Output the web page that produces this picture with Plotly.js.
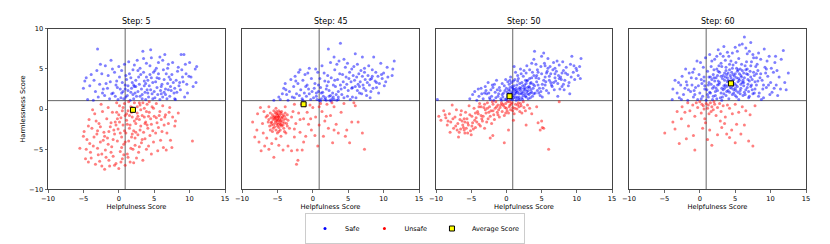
<!DOCTYPE html>
<html><head><meta charset="utf-8">
<script src="https://cdn.plot.ly/plotly-3.0.1.min.js"></script>
<style>html,body{margin:0;padding:0;background:#fff}#chart{width:830px;height:244px}</style>
</head><body><div id="chart"></div>
<script>
const stepLabels = ["Step: 5","Step: 45","Step: 50","Step: 60"];
const avgX = [2.0,-1.3,0.45,4.4];
const avgY = [-0.1,0.6,1.6,3.2];
const refX = 0.9, refY = 1.05;

const step5Safe = [[-4.6,3.9],[-4.8,3.5],[-5.0,2.6],[-4.4,1.2],[-3.6,1.1],[-3.0,7.5],[-2.6,5.6],[-2.2,2.5],[-1.8,3.2],[-1.5,4.2],[-1.1,6.1],[-0.8,2.0],[-0.5,1.6],[-0.3,3.5],[-0.9,5.0],[-2.7,3.1],[-3.3,2.2],[-2.0,1.7],[-1.3,1.3],[-0.1,1.2],[-2.4,4.4],[-3.9,4.3],[-1.6,2.6],[-0.6,4.6],[-0.2,2.7],[-1.0,1.9],[-2.9,1.5],[-1.9,5.4],[0.0,5.3],[-0.4,3.0],[-4.1,2.9],[-3.5,3.6],
[0.3,1.4],[0.6,2.2],[0.9,3.0],[1.2,1.7],[1.5,4.4],[1.8,2.6],[2.1,1.3],[2.4,3.6],[2.7,2.2],[3.0,5.1],[3.3,1.8],[3.6,2.9],[3.9,4.0],[4.2,1.5],[4.5,2.4],[4.8,3.3],[0.4,4.8],[0.8,5.6],[1.1,3.7],[1.6,1.1],[2.0,4.9],[2.3,2.0],[2.6,6.1],[2.9,3.1],[3.2,2.5],[3.5,6.3],[3.8,1.2],[4.1,3.6],[4.4,5.4],[4.7,1.9],[0.2,2.5],[1.3,2.9],[1.9,3.3],[2.5,1.6],[3.1,4.3],[3.7,2.1],[4.3,2.9],[4.9,4.6],[0.7,1.3],[1.4,5.9],[3.4,7.2],[4.5,7.4],[2.2,5.5],[3.9,5.7],[4.6,6.4],[1.0,4.2],[2.8,4.0],[3.6,3.5],[4.0,2.4],[2.2,2.8],[0.5,3.3],[1.7,2.1],[3.3,1.3],[4.6,3.9],[2.0,1.8],
[5.1,1.4],[5.4,2.7],[5.7,3.8],[6.0,1.9],[6.3,4.9],[6.6,2.5],[6.9,3.2],[7.2,1.6],[7.5,4.3],[7.8,2.0],[8.1,3.6],[8.4,5.2],[8.7,2.4],[9.0,4.0],[9.3,1.5],[9.6,3.1],[9.9,4.1],[10.2,4.0],[10.5,2.8],[10.8,5.0],[11.0,5.3],[10.9,3.3],[8.8,6.8],[9.2,6.8],[6.5,6.8],[5.8,6.5],[6.2,6.1],[7.0,5.6],[5.3,5.1],[5.6,4.4],[6.1,3.1],[6.8,1.3],[7.3,2.8],[7.6,5.8],[8.0,1.2],[8.3,4.7],[5.2,3.4],[5.9,2.3],[6.4,3.7],[7.1,4.0],[7.7,3.3],[8.5,2.9],[9.4,5.6],[5.5,1.8],[6.7,4.4],[7.9,1.3],[5.0,2.2],[6.2,1.5],[7.4,2.3],[8.2,2.1],[9.7,2.0],[10.0,5.8],[5.6,5.8],[6.9,5.1],[9.1,3.4],
[0.4,2.0],[1.0,1.5],[1.7,3.9],[2.4,2.8],[3.0,1.6],[3.5,4.6],[4.1,2.0],[4.8,1.3],[5.4,3.9],[6.0,2.8],[6.6,1.8],[7.3,3.7],[7.9,2.6],[8.6,3.3],[2.7,4.8],[1.3,2.3],[5.1,4.8],[6.4,2.1],[3.8,3.2],[0.9,2.5],[2.1,3.0],[4.4,4.3],[5.8,1.2],[7.0,2.4],[8.9,4.9],[9.5,4.4],[-1.2,3.4],[-2.3,2.0],[-3.1,4.8],[0.1,4.0]];

const step5Unsafe = [[-5.5,-4.9],[-4.9,-2.8],[-4.7,-6.2],[-4.5,-3.8],[-4.3,-6.6],[-4.2,-1.3],[-4.0,-5.4],[-3.8,-2.4],[-3.6,-4.6],[-3.4,-0.6],[-3.3,-6.9],[-3.1,-3.1],[-2.9,-5.7],[-2.8,-1.8],[-2.6,-4.1],[-2.4,-7.1],[-2.3,-0.3],[-2.1,-2.9],[-2.0,-7.5],[-1.9,-5.1],[-1.7,-1.2],[-1.6,-3.6],[-1.4,-6.4],[-1.3,-7.1],[-1.2,-2.2],[-1.0,-4.7],[-0.9,-0.4],[-0.8,-5.9],[-0.6,-3.1],[-0.5,-1.6],[-0.4,-6.8],[-0.2,-4.0],[-0.1,-2.5],[0.0,-7.4],[0.1,0.4],[0.2,-5.3],[0.3,-1.1],[0.4,-3.5],[0.5,-6.2],[0.6,-2.0],[0.7,-4.4],[0.8,0.7],[0.9,-7.0],[1.0,-3.0],[1.1,-1.4],[1.2,-5.6],[1.3,-0.2],[1.4,-4.0],[1.5,-2.4],[1.6,-6.6],[1.7,0.3],[1.8,-3.5],[1.9,-1.0],[2.0,-5.0],[2.1,-2.7],[2.2,0.8],[2.3,-4.5],[2.4,-1.8],[2.5,-6.1],[2.6,-0.5],[2.7,-3.2],[2.8,-5.4],[2.9,-1.3],[3.0,0.5],[3.1,-2.1],[3.2,-4.2],[3.3,-0.8],[3.4,-6.4],[3.5,-2.9],[3.6,0.1],[3.7,-3.7],[3.8,-1.6],[3.9,-5.0],[4.0,0.6],[4.1,-2.4],[4.2,-4.6],[4.3,-0.4],[4.4,-3.3],[4.5,-1.2],[4.6,-5.6],[4.7,0.3],[4.8,-2.7],[4.9,-4.1],[5.0,-0.9],[5.2,-3.0],[5.3,0.7],[5.4,-1.7],[5.5,-5.2],[5.6,-2.3],[5.8,-0.3],[5.9,-3.9],[6.0,-1.3],[6.2,0.4],[6.3,-4.8],[6.4,-2.0],[6.6,-0.7],[6.7,-5.1],[6.8,-3.0],[7.0,-1.8],[7.2,0.2],[7.3,-3.9],[7.5,-4.8],[7.6,-1.0],[7.9,-2.1],[8.0,-1.5],[8.4,-0.5],[10.4,-4.0],[-3.7,-0.1],[-2.5,0.6],[-1.5,0.2],[-0.3,0.8],[0.5,-0.2],[1.9,0.2],[0.9,-0.8],[1.4,0.9],[2.6,0.3],[3.4,0.8],[4.3,0.9],[-0.7,-2.6],[0.2,-3.0],[1.6,-2.0],[2.3,-3.6],[3.0,-2.6],[-2.2,-3.9],[-1.1,-5.4],[0.4,-4.8],[1.3,-6.0],[-3.0,-4.9],[-4.1,-4.3],[-2.7,-6.5],[-0.6,-7.0],[0.3,-6.6],[2.1,-6.7],[-1.8,-6.0],[-3.9,-6.1],[1.7,-4.9],[2.9,-4.7],[-0.2,-1.2],[1.1,-0.6],[2.5,-1.2],[3.9,-0.3],[-1.4,-2.8],[-2.6,-2.2],[0.8,-2.7],[4.6,-1.9],[5.7,-0.8],[6.1,-2.8],[7.1,-0.4],[-4.6,-5.0],[-5.0,-3.4],[-3.2,-1.5],[0.0,-0.7],[3.6,-1.0],[2.0,-0.1],
[-0.3,-0.4],[0.6,0.2],[1.2,-1.9],[1.8,-0.4],[2.4,-2.9],[3.1,-0.1],[3.7,-1.8],[4.2,-0.9],[4.9,0.1],[5.3,-1.1],[-1.1,-1.7],[-2.0,-3.4],[-3.5,-3.5],[-0.8,-3.8],[0.7,-5.7],[1.9,-3.1],[2.7,-0.9],[3.3,-3.8],[-1.5,-4.4],[-2.4,-5.6],[0.1,-1.6],[1.5,-0.8],[2.2,-1.5],[4.0,-2.0],[-0.4,-2.0],[0.9,-4.1],[-3.0,-2.7],[-4.3,-2.1],[6.5,-1.0],[2.9,0.8]];

const step45Safe = [[-5.5,1.1],[-4.8,1.5],[-4.6,1.2],[-4.1,2.6],[-3.9,3.2],[-3.7,1.8],[-3.5,1.1],[-3.3,2.2],[-3.1,3.7],[-2.9,1.5],[-2.7,2.8],[-2.5,4.1],[-2.3,1.9],[-2.1,3.2],[-2.0,4.6],[-1.8,4.9],[-1.7,2.4],[-1.5,1.3],[-1.4,3.6],[-1.2,2.0],[-1.1,4.3],[-0.9,1.6],[-0.8,3.0],[-0.6,2.5],[-0.5,5.1],[-0.3,1.2],[-0.2,3.8],[-0.1,2.2],[-2.6,1.4],[-3.8,2.4],[-1.9,1.7],[-0.7,4.5],[-4.3,1.9],[-1.0,2.8],[-2.4,3.5],
[0.1,1.4],[0.3,3.2],[0.5,2.0],[0.7,4.6],[0.9,1.1],[1.1,2.7],[1.3,5.4],[1.5,1.6],[1.7,3.5],[1.9,1.1],[2.1,4.2],[2.2,7.5],[2.3,2.3],[2.5,5.8],[2.7,1.3],[2.9,3.0],[3.1,4.9],[3.3,1.8],[3.5,3.7],[3.7,6.0],[3.9,8.2],[4.0,2.5],[4.2,4.3],[4.4,1.4],[4.6,5.2],[4.8,3.1],[0.2,2.6],[0.6,1.2],[1.0,3.8],[1.4,2.1],[1.8,1.4],[2.0,2.9],[2.4,1.1],[2.6,3.9],[2.8,2.0],[3.0,1.2],[3.2,2.8],[3.4,5.6],[3.6,2.2],[3.8,4.4],[4.1,1.8],[4.3,3.4],[4.5,2.7],[4.7,4.0],[4.9,1.6],[0.4,5.0],[1.2,1.3],[1.6,4.5],[2.2,3.4],[3.0,6.5],[3.6,1.5],[4.4,6.2],[0.8,2.2],[1.9,2.5],[2.5,1.7],[3.9,3.0],[4.9,5.7],[2.6,1.0],[3.4,1.1],[1.1,1.0],
[5.0,2.3],[5.2,4.6],[5.4,3.4],[5.6,1.5],[5.8,5.3],[6.0,2.8],[6.2,4.0],[6.4,3.1],[6.6,2.0],[6.8,4.8],[7.0,6.5],[7.2,2.6],[7.4,3.7],[7.6,1.7],[7.8,4.2],[8.0,3.0],[8.2,2.2],[8.4,4.9],[8.6,6.5],[8.8,3.5],[9.0,2.7],[9.2,4.1],[9.4,3.2],[9.6,5.7],[9.8,3.8],[10.0,4.5],[10.3,3.4],[10.6,4.0],[11.3,5.0],[11.5,6.0],[11.2,4.2],[5.1,3.8],[5.3,1.2],[5.5,2.6],[5.7,4.2],[5.9,3.6],[6.1,1.4],[6.3,5.6],[6.5,4.4],[6.7,3.4],[6.9,1.9],[7.1,3.0],[7.3,5.1],[7.5,2.3],[7.7,3.3],[7.9,5.4],[8.1,1.4],[8.3,3.8],[8.5,2.6],[8.9,4.6],[9.3,2.0],[9.7,4.3],[10.1,2.9],[10.5,5.2],[6.0,6.9],[7.3,4.6],[8.4,4.1],[5.5,5.0],[6.6,2.8],
[0.5,1.6],[1.2,2.0],[1.7,1.2],[2.3,1.6],[2.9,1.5],[3.6,1.2],[-1.4,1.1],[-0.5,1.9],[0.8,3.0],[5.6,2.7],[6.3,2.3],[7.0,4.1],[8.1,3.7],[9.0,3.3],[3.1,3.6]];

const step45Unsafe = [[-5.0,-1.2],[-4.8,-1.0],[-5.2,-1.4],[-4.6,-1.5],[-5.4,-0.9],[-4.9,-0.6],[-5.1,-1.8],[-4.4,-1.1],[-5.6,-1.3],[-4.7,-0.8],[-5.3,-0.5],[-4.5,-1.9],[-5.8,-1.6],[-4.2,-0.7],[-5.0,-2.1],[-4.9,-1.4],[-5.2,-1.0],[-4.3,-1.6],[-5.5,-1.9],[-4.6,-0.4],[-5.7,-0.7],[-4.1,-1.3],[-5.9,-1.1],[-4.8,-2.3],[-5.1,-0.3],[-4.4,-2.1],[-5.6,-2.4],[-4.0,-0.9],[-6.0,-0.5],[-4.7,-1.2],[-5.3,-1.6],[-4.9,-1.9],[-5.0,-0.8],[-4.5,-1.4],[-5.4,-1.2],[-4.8,-0.2],[-5.2,-2.6],[-4.2,-2.0],[-5.8,-2.0],[-3.8,-1.2],[-6.2,-1.3],[-4.6,-2.6],[-5.5,-0.2],[-4.0,-1.7],[-6.1,-2.1],[-3.9,-0.5],[-5.7,-2.8],[-4.4,-0.3],[-5.0,-1.5],[-4.7,-1.7],[-5.3,-1.1],[-4.9,-1.0],[-5.1,-0.6],[-4.3,-1.0],[-5.6,-1.0],[-4.6,-2.0],[-5.4,-2.2],[-4.1,-2.4],[-5.9,-1.7],[-3.7,-1.8],[-6.4,-0.8],[-4.5,-0.6],[-5.2,0.1],[-4.8,-2.8],[-3.6,-0.7],[-6.3,-1.6],[-5.0,-3.0],[-4.0,-2.8],[-6.0,-2.6],[-3.5,-1.4],
[-8.5,-1.6],[-7.9,-2.6],[-8.2,-3.5],[-7.6,-4.1],[-7.3,-5.2],[-7.0,-3.0],[-6.8,-4.6],[-6.6,-1.0],[-6.9,-0.3],[-7.4,0.2],[-6.5,-3.6],[-6.2,-5.0],[-5.8,-4.3],[-5.5,-6.0],[-5.2,-3.7],[-4.8,-4.5],[-4.5,-3.4],[-4.2,-5.1],[-3.8,-3.0],[-3.5,-4.6],[-3.3,-2.4],[-3.0,-5.2],[-2.8,-0.3],[-2.6,-3.5],[-2.4,-1.8],[-2.3,-6.9],[-2.1,-6.4],[-2.2,-5.1],[-2.0,-0.5],[-1.8,-2.9],[-1.6,0.6],[-1.5,-5.1],[-1.3,-1.2],[-1.1,0.4],[-1.0,-3.4],[-0.8,-0.4],[-0.6,-1.9],[-0.4,0.5],[-0.2,-2.6],[0.0,0.2],[0.4,-1.0],[0.7,-4.6],[0.9,-2.0],[1.1,0.7],[1.3,-0.3],[1.5,-3.4],[1.7,-1.5],[2.0,0.6],[2.2,-2.4],[2.5,-0.8],[2.8,-4.2],[3.0,0.3],[3.3,-1.9],[3.6,-3.0],[4.0,-0.4],[4.4,0.7],[4.8,-2.6],[5.2,-4.2],[5.5,-1.6],[6.0,0.4],[6.4,-1.6],[7.0,-3.0],[7.3,-5.0],[4.6,-3.4],[3.0,-2.6],[0.3,-3.3],[-3.9,0.3],[-2.6,0.6],[0.9,0.3],[1.9,-0.9],[-1.3,-4.1],[-3.6,-2.1],[-6.2,0.3],[-7.1,-1.8],[5.8,0.8],[2.7,0.8],[-0.3,-1.2],[-1.8,-1.3],[-3.0,-1.0],[-2.6,-2.5],[-7.8,-0.6]];

const step50Safe = [[-9.8,1.2],[-5.2,1.3],[-4.8,1.8],[-4.5,2.2],[-4.2,1.1],[-3.9,1.6],[-3.6,2.6],[-3.3,1.3],[-3.0,2.8],[-2.8,1.9],[-2.6,3.3],[-2.4,1.4],[-2.2,2.4],[-2.0,3.0],[-1.8,1.1],[-1.6,2.1],[-1.4,3.6],[-1.2,1.6],[-1.0,2.7],[-0.8,1.3],[-0.6,3.2],[-0.4,2.0],[-0.2,1.2],[0.0,2.6],[-3.5,1.9],[-2.9,2.3],[-1.9,2.7],[-1.1,1.9],[-0.5,1.5],[-0.1,3.7],[-1.5,1.4],[-2.5,2.0],[-0.9,2.3],[-0.3,2.9],[-4.0,2.5],[-1.7,3.1],[-0.7,1.1],[-2.1,1.6],
[0.1,1.1],[0.2,1.8],[0.3,2.4],[0.4,3.1],[0.5,1.4],[0.6,4.0],[0.7,2.0],[0.8,2.8],[0.9,1.2],[1.0,3.5],[1.1,1.7],[1.2,2.4],[1.3,4.6],[1.4,1.1],[1.5,3.0],[1.6,2.1],[1.7,3.8],[1.8,1.5],[1.9,2.7],[2.0,5.0],[2.1,1.9],[2.2,3.3],[2.3,1.2],[2.4,4.1],[2.5,2.5],[2.6,3.0],[2.7,1.6],[2.8,4.5],[2.9,2.2],[3.0,3.6],[3.1,1.3],[3.2,2.8],[3.3,4.9],[3.4,2.0],[3.5,3.3],[3.6,5.7],[3.7,1.6],[3.8,2.6],[3.9,4.2],[4.0,7.2],[0.2,3.4],[0.5,2.7],[0.8,1.6],[1.1,2.9],[1.4,2.0],[1.7,1.3],[2.0,2.3],[2.3,2.9],[2.6,1.9],[2.9,3.5],[3.2,1.8],[3.5,2.4],[3.8,3.1],[0.3,1.5],[0.9,2.2],[1.5,1.5],[2.1,4.4],[2.7,2.4],[3.3,3.8],[3.9,1.9],[0.6,1.2],[1.2,3.7],[1.8,2.5],[2.4,1.7],[3.0,2.7],[3.6,3.9],[0.1,2.1],[0.7,3.3],[1.3,1.4],[1.9,3.2],[2.5,4.8],[3.1,2.3],[3.7,4.6],[0.4,1.9],[1.0,2.5],[1.6,4.2],[2.2,2.0],[2.8,3.2],[3.4,1.4],[1.1,5.3],[2.9,5.4],[0.5,2.3],[1.4,2.6],
[4.1,2.0],[4.3,3.4],[4.5,4.6],[4.7,2.6],[4.9,5.3],[5.1,3.1],[5.3,7.0],[5.5,4.0],[5.7,2.3],[5.9,5.1],[6.1,3.6],[6.3,4.4],[6.5,2.8],[6.7,5.8],[6.9,3.9],[7.1,4.7],[7.3,3.2],[7.5,5.5],[7.7,4.0],[7.9,2.8],[8.1,4.8],[8.3,3.6],[8.5,5.2],[8.7,4.3],[8.9,3.3],[9.1,5.6],[9.3,6.6],[9.5,4.6],[9.7,3.7],[9.9,5.1],[10.2,4.2],[10.6,6.3],[10.4,5.3],[4.2,5.6],[4.4,2.3],[4.6,3.8],[4.8,1.7],[5.0,4.4],[5.2,2.6],[5.4,5.7],[5.6,3.4],[5.8,4.7],[6.0,2.0],[6.2,5.3],[6.4,3.0],[6.6,4.9],[6.8,2.4],[7.0,3.5],[7.2,6.0],[7.4,4.2],[7.6,2.5],[7.8,3.7],[8.0,5.9],[8.4,4.5],[8.8,2.9],[9.2,4.0],[9.6,5.4],[10.0,4.8],[4.5,3.0],[5.1,1.5],[5.5,3.0],[6.1,4.1],[6.7,3.3],[7.3,1.6],[8.2,2.4],[9.0,1.9],[10.5,3.8],[4.3,4.2],[5.9,6.3],[6.9,5.1],[7.9,4.5],[3.9,6.2],[5.0,6.6],[4.0,2.9],
[0.0,1.3],[0.3,1.9],[0.6,1.6],[0.9,2.6],[1.2,1.9],[1.5,2.3],[1.8,1.9],[2.1,2.6],[2.4,2.2],[2.7,3.6],[3.0,1.9],[3.3,2.7],[-0.2,2.3],[-0.6,1.8],[0.5,3.6],[1.0,1.4],[1.6,3.5],[2.2,1.4],[2.8,1.5],[3.4,3.2],[4.2,3.9],[4.6,2.0],[5.3,3.6],[5.7,4.5],[6.3,3.3],[6.9,4.4],[7.5,3.8],[8.1,3.1],[4.9,2.2],[5.5,5.4],[0.2,1.6],[0.8,1.9],[1.3,2.2],[1.9,1.2],[2.6,2.7],[-1.3,2.4],[-2.3,1.2],[-3.1,2.0],[3.6,2.1],[4.4,4.9]];

const step50Unsafe = [[-9.6,-0.9],[-9.3,-1.4],[-8.9,-0.2],[-8.6,-1.1],[-8.4,-2.0],[-8.1,-0.6],[-7.9,-1.6],[-7.7,0.5],[-7.5,-2.4],[-7.3,-1.0],[-7.1,-0.1],[-6.9,-1.8],[-6.7,-2.9],[-6.5,-0.7],[-6.3,-1.5],[-6.1,-2.3],[-5.9,-3.0],[-5.8,-0.4],[-5.6,-1.2],[-5.4,-2.0],[-5.3,0.4],[-5.1,-2.7],[-4.9,-0.9],[-4.8,-1.7],[-4.6,0.1],[-4.4,-2.3],[-4.3,-1.1],[-4.1,-0.3],[-3.9,-1.9],[-3.8,0.7],[-3.6,-0.8],[-3.4,-1.5],[-3.2,0.2],[-3.1,-2.4],[-2.9,-0.5],[-2.7,0.8],[-2.6,-1.2],[-2.4,0.3],[-2.2,-0.2],[-2.1,-1.8],[-1.9,0.6],[-1.8,-0.7],[-1.6,0.1],[-1.5,0.9],[-1.3,-0.4],[-1.2,0.5],[-1.0,-1.0],[-0.9,0.2],[-0.7,0.8],[-0.6,-0.3],[-0.4,0.4],[-0.3,-0.8],[-0.1,0.7],[0.0,0.1],[0.2,0.9],[0.3,-0.5],[0.5,0.5],[0.6,-0.1],[0.8,0.8],[0.9,0.2],[1.1,-0.6],[1.3,0.6],[1.5,0.0],[1.7,0.8],[1.9,-0.3],[2.1,0.4],[2.4,0.9],[2.7,-0.2],[3.0,0.5],[3.3,0.1],[-1.93,-3.3],[-0.3,-4.2],[6.0,-5.0],[4.5,-1.7],[5.3,-2.4],[2.8,-2.0],[7.5,0.9],[4.3,0.3],[5.0,-1.5],[1.0,-1.4],[-2.3,-3.6],[-6.8,-3.5],[-8.0,-2.9],[-5.0,-3.2],[-7.2,-2.1],[-6.0,-1.2],[-5.5,-1.7],[-5.2,-0.7],[-4.7,-2.5],[-4.2,-1.6],[-3.7,-2.1],[-3.3,-0.9],[-2.8,-1.6],[-2.3,-0.9],[-1.7,-1.3],[-1.1,-0.1],[-0.5,0.6],[0.1,-0.2],[0.4,0.3],[0.7,0.6],[1.2,0.1],[1.6,0.5],[2.0,0.7],[-0.8,0.5],[-1.4,0.3],[-2.0,0.9],[-2.5,-0.4],[-3.0,-0.1],[-3.5,-1.2],[-4.0,-0.6],[-4.5,-1.4],[-5.7,-2.4],[-6.2,-2.0],[-6.6,-1.3],[-7.0,-2.6],[-7.6,-1.2],[-8.3,-1.5],[-6.4,-0.2],[-0.2,0.2],[0.5,0.9],[-1.9,-0.2],[-3.9,0.3],[-5.9,-1.6],[-4.4,-0.5],[-2.7,0.1],[1.8,0.3],[2.5,0.2],[-1.2,-0.7],[-0.1,-0.5],[0.9,-0.2],[-3.1,0.6],[-4.9,-2.1],[-6.0,-2.6],[-5.5,-3.0],[-6.5,-2.5],[-8.7,-0.7],[-3.6,0.3],[3.6,-0.6],[2.2,-0.5],[5.1,-2.3],[4.8,-2.6],[0.3,-2.6]];

const step60Safe = [[-3.8,2.5],[-3.9,1.2],[-3.5,3.6],[-3.2,2.0],[-2.9,1.4],[-2.7,3.0],[-2.5,4.1],[-2.3,1.8],[-2.1,2.6],[-1.9,3.4],[-1.7,1.1],[-1.5,4.5],[-1.3,2.2],[-1.1,3.0],[-0.9,1.5],[-0.8,5.0],[-0.6,2.7],[-0.5,3.8],[-0.3,1.2],[-0.1,4.3],[0.0,2.0],[0.1,5.8],[0.3,3.2],[0.4,1.6],[0.6,4.0],[0.7,2.5],[0.9,1.1],[0.8,6.4],[-0.7,1.8],[-2.0,5.0],[-1.2,3.9],[-0.2,2.9],[0.5,5.2],[-3.0,3.3],[-1.6,2.4],[0.2,1.3],[-2.6,1.2],[-0.4,6.0],[0.6,3.5],[-1.0,4.6],
[1.0,2.4],[1.1,4.7],[1.2,1.5],[1.3,3.3],[1.4,6.8],[1.5,2.0],[1.6,5.3],[1.7,3.7],[1.8,1.2],[1.9,4.3],[2.0,2.8],[2.1,6.2],[2.2,1.7],[2.3,3.9],[2.4,5.0],[2.5,2.3],[2.6,7.4],[2.7,3.1],[2.8,4.6],[2.9,1.4],[3.0,5.7],[3.1,2.6],[3.2,3.8],[3.3,6.6],[3.4,1.9],[3.5,4.5],[3.6,3.0],[3.7,5.2],[3.8,2.2],[3.9,7.1],[4.0,3.6],[4.1,1.3],[4.2,4.9],[4.3,2.7],[4.4,6.0],[4.5,3.3],[4.6,1.8],[4.7,5.5],[4.8,2.4],[4.9,4.1],[5.0,7.7],[5.1,3.0],[5.2,1.5],[5.3,4.7],[5.4,2.1],[5.5,6.3],[5.6,3.6],[5.7,5.0],[5.8,2.6],[5.9,4.0],[6.0,8.1],[6.1,1.7],[6.2,3.3],[6.3,9.0],[6.4,5.4],[6.5,2.4],[6.6,4.4],[6.7,6.9],[6.8,3.1],[6.9,1.4],[7.0,7.2],[7.1,4.7],[7.2,2.8],[7.3,5.9],[7.4,3.7],[7.5,1.9],[7.6,6.4],[7.7,4.2],[7.8,2.5],[7.9,5.3],[1.2,3.0],[1.5,4.0],[1.8,2.6],[2.1,3.5],[2.4,1.3],[2.7,5.4],[3.0,4.1],[3.3,2.4],[3.6,6.1],[3.9,3.4],[4.2,2.1],[4.5,4.6],[4.8,3.7],[5.1,5.8],[5.4,3.4],[5.7,1.9],[6.0,4.8],[6.3,3.9],[6.6,5.9],[6.9,2.2],[7.2,4.0],[7.5,6.8],[7.8,3.4],[1.4,2.1],[2.0,4.9],[2.6,3.5],[3.2,1.5],[3.8,4.3],[4.4,3.9],[5.0,2.6],[5.6,4.4],[6.2,2.9],[6.8,4.3],[7.4,2.4],[1.7,6.0],[2.9,6.9],[4.1,6.6],[5.3,7.2],[6.5,7.6],[3.5,3.6],[4.0,4.5],[4.7,2.9],[5.2,3.9],[5.8,3.1],[3.4,2.9],[4.3,3.5],[4.9,3.2],[2.3,2.6],[6.1,3.6],[1.1,1.8],[3.1,1.1],[5.5,1.2],[7.0,1.6],[2.5,4.2],[4.6,5.1],[6.7,5.0],[3.7,4.8],[5.9,5.6],
[8.0,3.0],[8.2,4.8],[8.4,2.0],[8.6,6.2],[8.8,3.6],[9.0,1.4],[9.2,5.2],[9.4,2.7],[9.6,4.1],[9.8,6.6],[10.0,3.3],[10.2,2.1],[10.4,4.6],[10.6,5.8],[10.8,3.0],[11.0,1.7],[11.2,4.0],[11.5,6.2],[11.8,7.3],[12.0,3.3],[12.5,4.5],[12.2,2.4],[8.1,5.6],[8.5,3.9],[8.9,2.5],[9.3,4.5],[9.7,3.0],[10.1,5.1],[10.5,2.6],[10.9,4.8],[8.3,7.0],[9.1,7.5],[9.9,1.8],[8.7,1.2],[11.4,2.5],[8.0,4.4],[9.5,6.0],[10.7,6.6],
[2.2,2.2],[2.8,3.3],[3.3,4.2],[3.8,2.8],[4.3,4.2],[4.8,2.0],[5.3,2.8],[5.8,4.2],[6.3,2.1],[6.8,3.7],[7.3,3.0],[2.5,3.0],[3.0,2.0],[3.5,2.6],[4.0,2.3],[4.5,2.6],[5.0,4.4],[5.5,3.8],[6.0,3.3],[6.5,4.9],[7.0,3.5],[7.6,4.6],[1.6,3.1],[2.0,3.9],[2.6,4.7],[3.1,5.3],[3.6,4.0],[4.2,5.6],[4.7,4.3],[5.2,5.1],[5.7,2.3],[6.2,4.5],[6.7,2.7],[7.2,5.4],[7.7,2.0],[8.2,3.5],[8.6,4.4],[9.0,3.0],[9.4,5.0],[1.3,4.0],[0.7,2.9],[0.2,3.7],[-0.8,2.3],[-1.8,3.0],[2.4,6.6],[3.4,7.8],[4.6,7.0],[5.6,8.0],[7.2,8.3],[8.0,6.4],[1.9,1.6],[3.7,1.7],[5.0,1.7],[6.4,1.8],[8.3,1.6],[4.1,3.0],[4.6,3.6],[5.1,2.3],[3.9,3.9],[5.4,4.9]];

const step60Unsafe = [[-2.5,0.3],[-2.1,-0.4],[-1.7,0.8],[-1.4,-0.2],[-1.0,0.5],[-0.7,-0.9],[-0.3,0.2],[0.0,0.9],[0.2,-0.5],[0.5,0.4],[0.7,-1.2],[0.9,0.7],[1.1,0.1],[1.3,-0.6],[1.5,0.8],[1.7,0.3],[1.9,-0.1],[2.1,0.6],[2.3,-0.8],[2.5,0.2],[2.8,0.7],[3.0,-0.3],[3.3,0.4],[3.6,-1.0],[3.9,0.5],[4.2,0.1],[4.6,-0.6],[5.0,0.6],[5.5,-0.4],[6.0,0.3],[6.5,-0.2],[7.1,-0.7],[7.8,0.4],[-3.2,-0.3],[0.6,0.0],[1.2,0.5],[1.6,-0.3],[2.0,0.9],[-0.5,0.8],[0.3,0.6],
[-4.95,-3.0],[-3.5,-2.5],[-2.9,-4.3],[-0.7,-5.1],[1.7,-4.5],[7.5,-4.6],[6.9,-4.0],[4.2,-3.55],[1.1,-3.8],[3.1,-2.3],[-3.8,-1.6],[-1.6,-2.1],[-0.9,-3.3],[0.4,-2.4],[2.5,-3.2],[3.5,-1.8],[4.5,-2.6],[5.2,-1.9],[5.8,-3.1],[6.3,-2.0],[0.8,-1.7],[2.9,-1.5],[-1.9,-3.7],[5.0,-4.2],[3.8,-3.1],[-2.6,-1.2],[1.4,-2.6]];

const safeSets = [step5Safe, step45Safe, step50Safe, step60Safe];
const unsafeSets = [step5Unsafe, step45Unsafe, step50Unsafe, step60Unsafe];

const xDomains = [[48/830,225/830],[242/830,419/830],[436/830,612/830],[629/830,806/830]];
const yDomain = [1-190/244, 1-29/244];
const font = 'DejaVu Sans, sans-serif';

const data = [];
const layout = {
  width:830, height:244, margin:{l:0,r:0,t:0,b:0},
  paper_bgcolor:'#fff', plot_bgcolor:'#fff',
  font:{family:font, size:6.7, color:'#000'},
  showlegend:true,
  legend:{orientation:'h', x:0.5, xanchor:'center', y:1-229/244, yanchor:'middle',
    bordercolor:'#cccccc', borderwidth:1, font:{size:6.5}, itemwidth:30, tracegroupgap:0},
  shapes:[], annotations:[]
};

for (let i=0;i<4;i++){
  const xa = i===0 ? 'x' : 'x'+(i+1);
  const ya = i===0 ? 'y' : 'y'+(i+1);
  const s = safeSets[i], u = unsafeSets[i];
  data.push({type:'scatter', mode:'markers', name:'Safe', legendgroup:'safe', showlegend:false,
    x:s.map(p=>p[0]), y:s.map(p=>p[1]), xaxis:xa, yaxis:ya,
    marker:{color:'rgba(0,0,255,0.5)', size:3}, hoverinfo:'skip'});
  data.push({type:'scatter', mode:'markers', name:'Unsafe', legendgroup:'unsafe', showlegend:false,
    x:u.map(p=>p[0]), y:u.map(p=>p[1]), xaxis:xa, yaxis:ya,
    marker:{color:'rgba(255,0,0,0.5)', size:3}, hoverinfo:'skip'});
  data.push({type:'scatter', mode:'markers', name:'Average Score', legendgroup:'avg', showlegend:i===0,
    x:[avgX[i]], y:[avgY[i]], xaxis:xa, yaxis:ya, legendrank:3,
    marker:{color:'#ffff00', size:5, symbol:'square', line:{color:'#000', width:1}}, hoverinfo:'skip'});

  const axKey = i===0 ? 'xaxis' : 'xaxis'+(i+1);
  const ayKey = i===0 ? 'yaxis' : 'yaxis'+(i+1);
  layout[axKey] = {domain:xDomains[i], anchor:ya, range:[-10,15], tick0:-10, dtick:5,
    showgrid:false, zeroline:false, showline:true, mirror:true, linecolor:'#444', linewidth:1,
    ticks:'outside', ticklen:2.5, tickwidth:0.8, tickcolor:'#444', tickfont:{size:6.7},
    title:{text:'Helpfulness Score', font:{size:6.7}, standoff:0}};
  layout[ayKey] = {domain:yDomain, anchor:xa, range:[-10,10], tick0:-10, dtick:5,
    showgrid:false, zeroline:false, showline:true, mirror:true, linecolor:'#444', linewidth:1,
    ticks: i===0 ? 'outside' : '', ticklen:2.5, tickwidth:0.8, tickcolor:'#444',
    showticklabels:i===0, tickfont:{size:6.7},
    title: i===0 ? {text:'Harmlessness Score', font:{size:6.7}, standoff:2} : {text:''}};
  layout.shapes.push({type:'line', xref:xa, yref:ya+' domain', x0:refX, x1:refX, y0:0, y1:1, line:{color:'#555', width:0.9}, layer:'below'});
  layout.shapes.push({type:'line', xref:xa+' domain', yref:ya, x0:0, x1:1, y0:refY, y1:refY, line:{color:'#555', width:0.9}, layer:'below'});
  layout.annotations.push({text:stepLabels[i], xref:'paper', yref:'paper', x:(xDomains[i][0]+xDomains[i][1])/2,
    y:yDomain[1], yanchor:'bottom', xanchor:'center', yshift:1, showarrow:false, font:{size:8}});
}

// legend-only entries with solid colours (as in the reference legend)
data.unshift({type:'scatter', mode:'markers', name:'Unsafe', legendgroup:'unsafe', x:[null], y:[null],
  marker:{color:'#ff0000', size:3}, hoverinfo:'skip', legendrank:2});
data.unshift({type:'scatter', mode:'markers', name:'Safe', legendgroup:'safe', x:[null], y:[null],
  marker:{color:'#0000ff', size:3}, hoverinfo:'skip', legendrank:1});

Plotly.newPlot('chart', data, layout, {displayModeBar:false, staticPlot:true});
</script></body></html>
